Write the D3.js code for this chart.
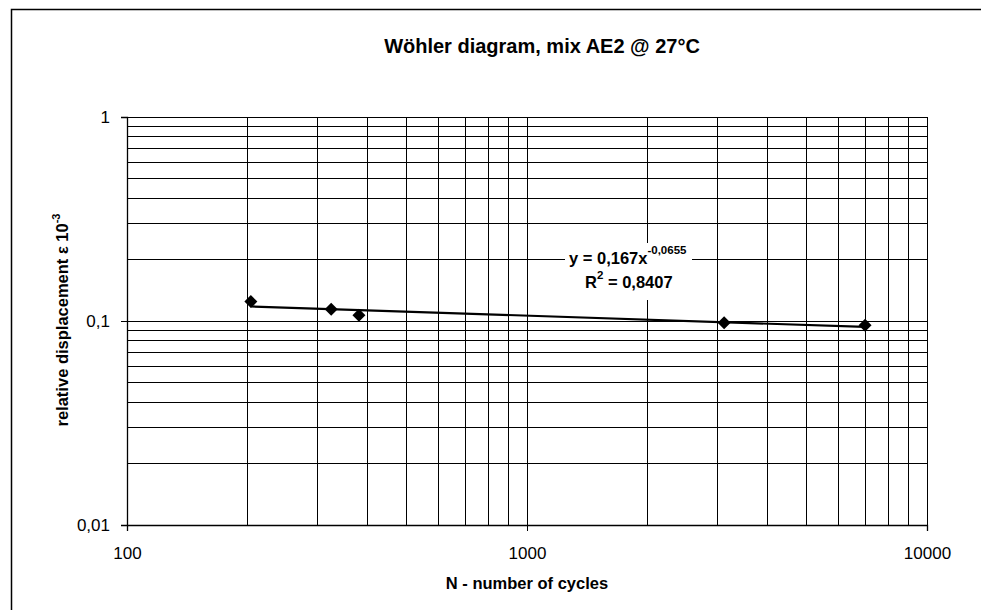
<!DOCTYPE html>
<html>
<head>
<meta charset="utf-8">
<script src="https://cdn.jsdelivr.net/npm/d3@7"></script>
<style>
  body { margin: 0; background: #fff; }
  svg { display: block; font-family: Arial, "Liberation Sans", sans-serif; }
</style>
</head>
<body>
<svg id="chart" width="981" height="610"></svg>
<script>
// Data
const cycles = [204, 324, 380, 3110, 7000];
const displacement = [0.1245, 0.1141, 0.1067, 0.0981, 0.0953];
const trendCoef = [0.167, -0.0655]; // y = a * x^b
const xTickLabels = ['100', '1000', '10000'];
const yTickLabels = ['0,01', '0,1', '1'];

const width = 981, height = 610;
const margin = { top: 117, right: 54, bottom: 85, left: 127 };
const font = 'Arial, "Liberation Sans", sans-serif';

const svg = d3.select('#chart');

// outer chart frame
svg.append('rect')
  .attr('x', 11.5).attr('y', 9.5)
  .attr('width', 1000).attr('height', 700)
  .attr('fill', '#fff').attr('stroke', '#000').attr('stroke-width', 1.5);

const x = d3.scaleLog().domain([100, 10000]).range([margin.left, width - margin.right]);
const y = d3.scaleLog().domain([0.01, 1]).range([height - margin.bottom, margin.top]);

// gridlines
const xGrid = [];
for (let d = 100; d <= 1000; d *= 10) for (let k = 1; k < 10; k++) xGrid.push(d * k);
xGrid.push(10000);
const yGrid = [];
for (let d = 0.01; d <= 0.1 + 1e-9; d *= 10) for (let k = 1; k < 10; k++) yGrid.push(d * k);
yGrid.push(1);

const grid = svg.append('g').attr('stroke', '#000').attr('stroke-width', 1).attr('shape-rendering', 'crispEdges');
grid.selectAll('line.v').data(xGrid).join('line')
  .attr('class', 'v')
  .attr('x1', d => x(d)).attr('x2', d => x(d))
  .attr('y1', y(0.01)).attr('y2', y(1));
grid.selectAll('line.h').data(yGrid).join('line')
  .attr('class', 'h')
  .attr('x1', x(100)).attr('x2', x(10000))
  .attr('y1', d => y(d)).attr('y2', d => y(d));

// axes
const xAxis = d3.axisBottom(x)
  .tickValues([100, 1000, 10000])
  .tickFormat((d, i) => xTickLabels[i])
  .tickSize(6);
const yAxis = d3.axisLeft(y)
  .tickValues([0.01, 0.1, 1])
  .tickFormat((d, i) => yTickLabels[i])
  .tickSize(6);

const gx = svg.append('g').attr('transform', `translate(0,${y(0.01)})`).call(xAxis);
const gy = svg.append('g').attr('transform', `translate(${x(100)},0)`).call(yAxis);
[gx, gy].forEach(g => {
  g.select('.domain').attr('stroke', '#000').attr('stroke-width', 1.3);
  g.selectAll('.tick line').attr('stroke', '#000');
  g.selectAll('.tick text').attr('fill', '#000').style('font-size', '17px').style('font-family', font);
});
gx.selectAll('.tick line').attr('y1', -3).attr('y2', 6);
gx.selectAll('.tick text').attr('y', 22);
gy.selectAll('.tick line').attr('x1', 3);
gy.selectAll('.tick text').attr('x', -17);

// trendline (power fit, straight in log-log)
const xMin = d3.min(cycles), xMax = d3.max(cycles);
const trend = d3.line().x(d => x(d)).y(d => y(trendCoef[0] * Math.pow(d, trendCoef[1])));
svg.append('path')
  .datum([xMin, xMax])
  .attr('d', trend)
  .attr('fill', 'none').attr('stroke', '#000').attr('stroke-width', 2.2);

// data points
const pts = cycles.map((c, i) => ({ c, v: displacement[i] }));
svg.selectAll('path.pt').data(pts).join('path')
  .attr('class', 'pt')
  .attr('d', 'M0,-6.5L6.5,0L0,6.5L-6.5,0Z')
  .attr('transform', d => `translate(${x(d.c)},${y(d.v)})`)
  .attr('fill', '#000');

// equation label
const lab = svg.append('g');
lab.append('rect').attr('x', 565).attr('y', 243).attr('width', 127).attr('height', 57).attr('fill', '#fff');
const eq = lab.append('text').attr('x', 569).attr('y', 264)
  .style('font-size', '16.5px').style('font-weight', 'bold').attr('fill', '#000');
eq.append('tspan').text(`y = ${String(trendCoef[0]).replace('.', ',')}x`);
eq.append('tspan').attr('dy', -10).style('font-size', '11.5px').text(String(trendCoef[1]).replace('.', ','));
const r2 = lab.append('text').attr('x', 585).attr('y', 288)
  .style('font-size', '16.5px').style('font-weight', 'bold').attr('fill', '#000');
r2.append('tspan').text('R');
r2.append('tspan').attr('dy', -9).style('font-size', '11.5px').text('2');
r2.append('tspan').attr('dy', 9).text(' = 0,8407');

// title
svg.append('text').attr('x', 542).attr('y', 53).attr('text-anchor', 'middle')
  .style('font-size', '20px').style('font-weight', 'bold').attr('fill', '#000')
  .text('Wöhler diagram, mix AE2 @ 27°C');

// axis titles
svg.append('text').attr('x', 527).attr('y', 589).attr('text-anchor', 'middle')
  .style('font-size', '16.5px').style('font-weight', 'bold').attr('fill', '#000')
  .text('N - number of cycles');

const yt = svg.append('text').attr('transform', 'translate(68,320) rotate(-90)').attr('text-anchor', 'middle')
  .style('font-size', '16.5px').style('font-weight', 'bold').attr('fill', '#000');
yt.append('tspan').text('relative displacement ε 10');
yt.append('tspan').attr('dy', -8).style('font-size', '11px').text('-3');
</script>
</body>
</html>
